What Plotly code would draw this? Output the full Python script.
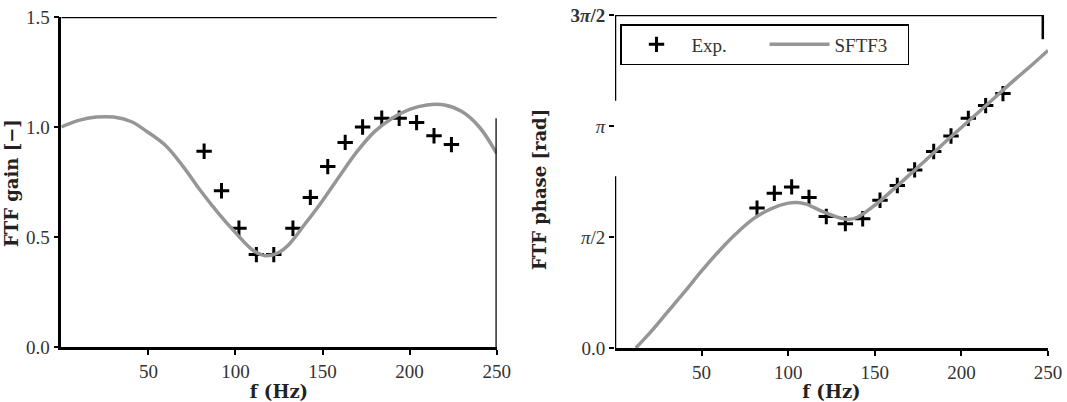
import numpy as np
import plotly.graph_objects as go

# ---------------- data ----------------
# Experimental frequencies (Hz)
f_exp = [82, 92, 102, 112, 122, 133, 143, 153, 163, 173, 184, 194, 204, 214, 224]
gain_exp = [0.89, 0.71, 0.54, 0.42, 0.42, 0.54, 0.68, 0.82, 0.93, 1.00, 1.04, 1.04, 1.02, 0.96, 0.92]
phase_exp = [1.98, 2.19, 2.28, 2.13, 1.86, 1.76, 1.83, 2.09, 2.30, 2.52, 2.78, 3.00, 3.25, 3.43, 3.60]

# SFTF3 model
f_gain = [0, 10, 20, 30, 40, 50, 60, 70, 80, 90, 100, 110, 117, 125, 130, 140, 150,
          160, 170, 180, 190, 200, 210, 220, 230, 240, 250]
gain_model = [1.00, 1.03, 1.045, 1.045, 1.025, 0.975, 0.915, 0.82, 0.71, 0.61, 0.52, 0.44, 0.415,
              0.43, 0.46, 0.56, 0.665, 0.78, 0.89, 0.98, 1.04, 1.08, 1.10, 1.10, 1.07, 1.00, 0.88]

f_phase = [12, 20, 30, 40, 50, 60, 70, 80, 90, 100, 105, 110, 120, 130, 135, 140, 150,
           160, 170, 180, 190, 200, 210, 220, 230, 240, 250]
phase_model = [0.0, 0.21, 0.50, 0.79, 1.09, 1.37, 1.62, 1.83, 1.97, 2.05, 2.06, 2.04, 1.93, 1.84,
               1.82, 1.85, 2.02, 2.23, 2.45, 2.67, 2.90, 3.12, 3.34, 3.56, 3.78, 3.99, 4.21]

x_ticks = [50, 100, 150, 200, 250]
gain_ticks = [0.0, 0.5, 1.0, 1.5]
phase_ticks = [0, np.pi / 2, np.pi, 3 * np.pi / 2]
phase_ticktext = ["0.0", "<i>π</i>/2", "<i>π</i>", "<b>3<i>π</i>/2</b>"]

# ---------------- styles ----------------
W, H = 1067, 402
GREY = "rgb(150,150,150)"
TICKFONT = dict(family="Liberation Serif", size=19, color="#333")
TITLEFONT = dict(family="DejaVu Serif", size=18, color="#222")

def px_x(p):
    return p / W

def px_y(p):
    return 1 - p / H

fig = go.Figure()

marker = dict(symbol="cross-thin", size=11, color="black", line=dict(width=3, color="black"))

fig.add_trace(go.Scatter(x=f_exp, y=gain_exp, mode="markers", marker=marker,
                         name="Exp.", xaxis="x", yaxis="y", showlegend=False))
fig.add_trace(go.Scatter(x=f_gain, y=gain_model, mode="lines", line=dict(color=GREY, width=3.5, shape="spline"),
                         name="SFTF3", xaxis="x", yaxis="y", showlegend=False))
fig.add_trace(go.Scatter(x=f_exp, y=phase_exp, mode="markers", marker=marker,
                         name="Exp.", xaxis="x2", yaxis="y2"))
fig.add_trace(go.Scatter(x=f_phase, y=phase_model, mode="lines", line=dict(color=GREY, width=3.5, shape="spline"),
                         name="SFTF3", xaxis="x2", yaxis="y2"))

axis_common = dict(showgrid=False, zeroline=False, linecolor="black", linewidth=2.5,
                   ticks="outside", ticklen=5, tickwidth=2, tickcolor="black", tickfont=TICKFONT,
                   automargin=False)

fig.update_layout(
    width=W, height=H,
    margin=dict(l=0, r=0, t=0, b=0),
    paper_bgcolor="white", plot_bgcolor="white",
    xaxis=dict(domain=[px_x(61.3), px_x(496.7)], range=[0, 250], tickvals=x_ticks, anchor="y",
               showline=True,
               title=dict(text="<b>f (Hz)</b>", font=TITLEFONT, standoff=6), **axis_common),
    yaxis=dict(domain=[px_y(347), px_y(17)], range=[0, 1.5], tickvals=gain_ticks, tickformat=".1f",
               anchor="x", showline=True, **axis_common),
    xaxis2=dict(domain=[px_x(615), px_x(1048)], range=[0, 250], tickvals=x_ticks, anchor="y2",
                showline=True,
                title=dict(text="<b>f (Hz)</b>", font=TITLEFONT, standoff=6), **axis_common),
    yaxis2=dict(domain=[px_y(348), px_y(15)], range=[0, 3 * np.pi / 2], tickvals=phase_ticks,
                ticktext=phase_ticktext, anchor="x2", showline=False, **axis_common),
    legend=dict(x=px_x(620), y=px_y(24), xanchor="left", yanchor="top", orientation="h",
                bordercolor="black", borderwidth=1.5, bgcolor="white",
                font=dict(family="Liberation Serif", size=19, color="#333"),
                itemwidth=60, entrywidth=68, tracegroupgap=0),
    showlegend=True,
)

# frame pieces (top and partial right spines) as in the reference
line_style = dict(color="black", width=2.5)
fig.add_shape(type="line", xref="x", yref="y", x0=0, x1=253, y0=1.5, y1=1.5, line=line_style)
fig.add_shape(type="line", xref="x", yref="y", x0=250, x1=250, y0=0, y1=1.04, line=line_style)
fig.add_shape(type="line", xref="x2", yref="y2", x0=0, x1=247, y0=3 * np.pi / 2, y1=3 * np.pi / 2, line=line_style)
fig.add_shape(type="line", xref="x2", yref="y2", x0=247, x1=247, y0=4.37, y1=3 * np.pi / 2, line=line_style)
# broken left spine of the phase plot
fig.add_shape(type="line", xref="x2", yref="y2", x0=0, x1=0, y0=0, y1=2.43, line=line_style)
fig.add_shape(type="line", xref="x2", yref="y2", x0=0, x1=0, y0=3.50, y1=3 * np.pi / 2, line=line_style)

# y-axis titles
fig.add_annotation(text="<b>FTF gain [−]</b>", xref="paper", yref="paper", x=px_x(11), y=px_y(183),
                   textangle=-90, showarrow=False, font=TITLEFONT, xanchor="center", yanchor="middle")
fig.add_annotation(text="<b>FTF phase [rad]</b>", xref="paper", yref="paper", x=px_x(540), y=px_y(190),
                   textangle=-90, showarrow=False, font=TITLEFONT, xanchor="center", yanchor="middle")

fig.write_html("out.html")
